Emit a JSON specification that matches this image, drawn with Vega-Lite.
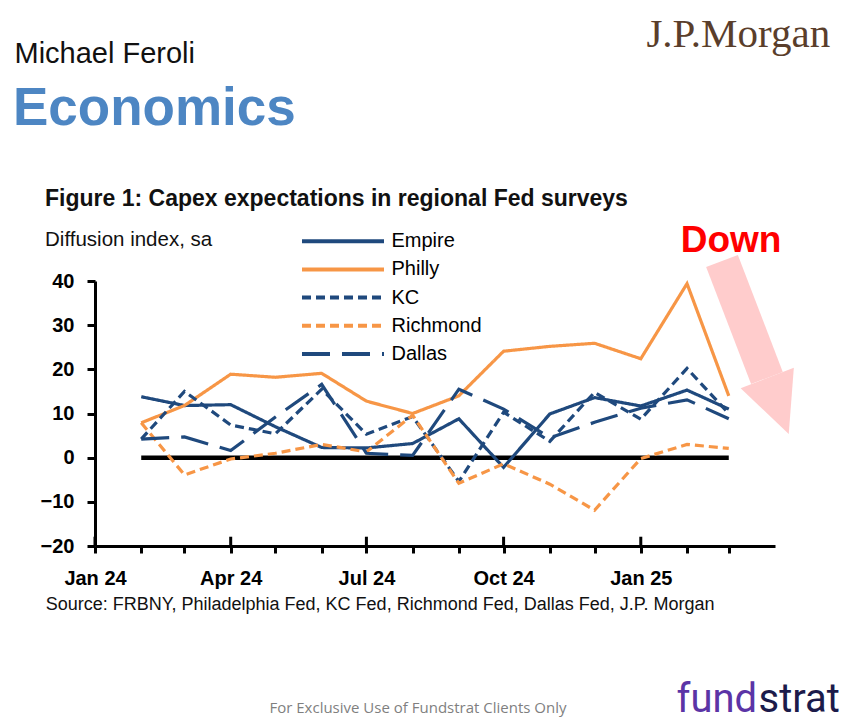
{
  "$schema": "https://vega.github.io/schema/vega-lite/v6.json",
  "autosize": "none",
  "width": 680,
  "height": 265,
  "padding": {"left": 95, "top": 281, "right": 86, "bottom": 179},
  "background": "white",
  "config": {
    "view": {"stroke": null},
    "font": "Liberation Sans",
    "axis": {
      "grid": false,
      "title": null,
      "domainColor": "black",
      "domainWidth": 3,
      "tickColor": "black",
      "tickWidth": 3,
      "labelFont": "Liberation Sans",
      "labelFontWeight": "bold",
      "labelFontSize": 20,
      "labelColor": "black",
      "labelFlush": false,
      "labelOverlap": false
    },
    "axisX": {"tickSize": 7, "labelPadding": 15},
    "axisY": {"tickSize": 8, "labelPadding": 13}
  },
  "datasets": {
    "capex": [
      {"date": "2024-02-01", "series": "Empire", "value": 13.8},
      {"date": "2024-03-01", "series": "Empire", "value": 11.8},
      {"date": "2024-04-01", "series": "Empire", "value": 12.0},
      {"date": "2024-05-01", "series": "Empire", "value": 7.0},
      {"date": "2024-06-01", "series": "Empire", "value": 2.3},
      {"date": "2024-07-01", "series": "Empire", "value": 2.2},
      {"date": "2024-08-01", "series": "Empire", "value": 3.2},
      {"date": "2024-09-01", "series": "Empire", "value": 8.8},
      {"date": "2024-10-01", "series": "Empire", "value": -2.2},
      {"date": "2024-11-01", "series": "Empire", "value": 9.9},
      {"date": "2024-12-01", "series": "Empire", "value": 13.6},
      {"date": "2025-01-01", "series": "Empire", "value": 11.7},
      {"date": "2025-02-01", "series": "Empire", "value": 15.3},
      {"date": "2025-03-01", "series": "Empire", "value": 11.0},
      {"date": "2024-02-01", "series": "Philly", "value": 7.9},
      {"date": "2024-03-01", "series": "Philly", "value": 11.8},
      {"date": "2024-04-01", "series": "Philly", "value": 18.9},
      {"date": "2024-05-01", "series": "Philly", "value": 18.2},
      {"date": "2024-06-01", "series": "Philly", "value": 19.1},
      {"date": "2024-07-01", "series": "Philly", "value": 12.8},
      {"date": "2024-08-01", "series": "Philly", "value": 10.0},
      {"date": "2024-09-01", "series": "Philly", "value": 14.0},
      {"date": "2024-10-01", "series": "Philly", "value": 24.1},
      {"date": "2024-11-01", "series": "Philly", "value": 25.2},
      {"date": "2024-12-01", "series": "Philly", "value": 25.9},
      {"date": "2025-01-01", "series": "Philly", "value": 22.4},
      {"date": "2025-02-01", "series": "Philly", "value": 39.4},
      {"date": "2025-03-01", "series": "Philly", "value": 14.0},
      {"date": "2024-02-01", "series": "KC", "value": 4.2},
      {"date": "2024-03-01", "series": "KC", "value": 15.0},
      {"date": "2024-04-01", "series": "KC", "value": 7.4},
      {"date": "2024-05-01", "series": "KC", "value": 5.4},
      {"date": "2024-06-01", "series": "KC", "value": 15.5},
      {"date": "2024-07-01", "series": "KC", "value": 5.3},
      {"date": "2024-08-01", "series": "KC", "value": 9.3},
      {"date": "2024-09-01", "series": "KC", "value": -5.4},
      {"date": "2024-10-01", "series": "KC", "value": 10.3},
      {"date": "2024-11-01", "series": "KC", "value": 3.7},
      {"date": "2024-12-01", "series": "KC", "value": 14.8},
      {"date": "2025-01-01", "series": "KC", "value": 8.7},
      {"date": "2025-02-01", "series": "KC", "value": 20.2},
      {"date": "2025-03-01", "series": "KC", "value": 10.0},
      {"date": "2024-02-01", "series": "Richmond", "value": 7.9},
      {"date": "2024-03-01", "series": "Richmond", "value": -3.9},
      {"date": "2024-04-01", "series": "Richmond", "value": -0.3},
      {"date": "2024-05-01", "series": "Richmond", "value": 1.0},
      {"date": "2024-06-01", "series": "Richmond", "value": 3.0},
      {"date": "2024-07-01", "series": "Richmond", "value": 1.3},
      {"date": "2024-08-01", "series": "Richmond", "value": 9.6},
      {"date": "2024-09-01", "series": "Richmond", "value": -5.8},
      {"date": "2024-10-01", "series": "Richmond", "value": -1.4},
      {"date": "2024-11-01", "series": "Richmond", "value": -6.0},
      {"date": "2024-12-01", "series": "Richmond", "value": -11.9},
      {"date": "2025-01-01", "series": "Richmond", "value": -0.2},
      {"date": "2025-02-01", "series": "Richmond", "value": 3.0},
      {"date": "2025-03-01", "series": "Richmond", "value": 2.1},
      {"date": "2024-02-01", "series": "Dallas", "value": 4.2},
      {"date": "2024-03-01", "series": "Dallas", "value": 4.7},
      {"date": "2024-04-01", "series": "Dallas", "value": 1.6},
      {"date": "2024-05-01", "series": "Dallas", "value": 9.2},
      {"date": "2024-06-01", "series": "Dallas", "value": 16.6},
      {"date": "2024-07-01", "series": "Dallas", "value": 1.0},
      {"date": "2024-08-01", "series": "Dallas", "value": 0.5},
      {"date": "2024-09-01", "series": "Dallas", "value": 15.5},
      {"date": "2024-10-01", "series": "Dallas", "value": 11.0},
      {"date": "2024-11-01", "series": "Dallas", "value": 4.5},
      {"date": "2024-12-01", "series": "Dallas", "value": 8.0},
      {"date": "2025-01-01", "series": "Dallas", "value": 11.2},
      {"date": "2025-02-01", "series": "Dallas", "value": 13.1},
      {"date": "2025-03-01", "series": "Dallas", "value": 8.8}
    ],
    "quarters": [
      {"date": "2024-01-01"},
      {"date": "2024-04-01"},
      {"date": "2024-07-01"},
      {"date": "2024-10-01"},
      {"date": "2025-01-01"}
    ]
  },
  "layer": [
    {
      "data": {"values": [{}]},
      "mark": {"type": "rule", "color": "#ffcccc", "strokeWidth": 34, "strokeCap": "butt"},
      "encoding": {
        "x": {"datum": {"year": 2025, "month": 2, "date": 24, "hours": 11, "utc": true}, "type": "temporal", "scale": {"type": "utc", "domain": [{"year": 2024, "month": 1, "date": 1, "utc": true}, {"year": 2025, "month": 4, "date": 1, "utc": true}]}},
        "x2": {"datum": {"year": 2025, "month": 3, "date": 26, "hours": 14, "utc": true}},
        "y": {"datum": 44.53, "type": "quantitative", "scale": {"domain": [-20, 40]}},
        "y2": {"datum": 18.04}
      }
    },
    {
      "data": {"values": [{}]},
      "mark": {"type": "point", "shape": "M-0.95,-1L0.95,-1L0,1Z", "size": 3600, "angle": 339, "filled": true, "color": "#ffcccc", "opacity": 1, "strokeWidth": 0},
      "encoding": {
        "x": {"datum": {"year": 2025, "month": 4, "date": 3, "utc": true}, "type": "temporal"},
        "y": {"datum": 11.7, "type": "quantitative"}
      }
    },
    {
      "data": {"values": [{}]},
      "mark": {"type": "rule", "color": "black", "strokeWidth": 4.5, "strokeCap": "butt"},
      "encoding": {
        "x": {"datum": {"year": 2024, "month": 2, "date": 1, "utc": true}, "type": "temporal"},
        "x2": {"datum": {"year": 2025, "month": 3, "date": 1, "utc": true}},
        "y": {"datum": 0, "type": "quantitative"}
      }
    },
    {
      "data": {"name": "quarters"},
      "mark": {"type": "rule", "color": "black", "strokeWidth": 3},
      "encoding": {
        "x": {"field": "date", "type": "temporal"},
        "y": {"datum": -20, "type": "quantitative"},
        "y2": {"datum": -17.9}
      }
    },
    {
      "data": {"name": "capex"},
      "mark": {"type": "line", "strokeWidth": 3.2, "strokeCap": "butt"},
      "encoding": {
        "x": {
          "field": "date",
          "type": "temporal",
          "axis": {
            "values": [
              {"year": 2024, "month": 1, "date": 1, "utc": true},
              {"year": 2024, "month": 2, "date": 1, "utc": true},
              {"year": 2024, "month": 3, "date": 1, "utc": true},
              {"year": 2024, "month": 4, "date": 1, "utc": true},
              {"year": 2024, "month": 5, "date": 1, "utc": true},
              {"year": 2024, "month": 6, "date": 1, "utc": true},
              {"year": 2024, "month": 7, "date": 1, "utc": true},
              {"year": 2024, "month": 8, "date": 1, "utc": true},
              {"year": 2024, "month": 9, "date": 1, "utc": true},
              {"year": 2024, "month": 10, "date": 1, "utc": true},
              {"year": 2024, "month": 11, "date": 1, "utc": true},
              {"year": 2024, "month": 12, "date": 1, "utc": true},
              {"year": 2025, "month": 1, "date": 1, "utc": true},
              {"year": 2025, "month": 2, "date": 1, "utc": true},
              {"year": 2025, "month": 3, "date": 1, "utc": true}
            ],
            "labelExpr": "utcmonth(datum.value) % 3 == 0 ? utcFormat(datum.value, '%b %y') : ''"
          }
        },
        "y": {
          "field": "value",
          "type": "quantitative",
          "axis": {"values": [-20, -10, 0, 10, 20, 30, 40]}
        },
        "color": {
          "field": "series",
          "type": "nominal",
          "scale": {
            "domain": ["Empire", "Philly", "KC", "Richmond", "Dallas"],
            "range": ["#1f497d", "#f79646", "#1f497d", "#f79646", "#1f497d"]
          },
          "legend": {
            "title": null, "orient": "none", "legendX": 237.5, "legendY": -50.3,
            "symbolType": "M-5,0L5,0", "symbolSize": 269, "symbolStrokeWidth": 4,
            "labelFont": "Liberation Sans", "labelFontSize": 20, "labelColor": "black",
            "labelOffset": 38, "rowPadding": 7.2, "padding": 0
          }
        },
        "strokeDash": {
          "field": "series",
          "type": "nominal",
          "scale": {
            "domain": ["Empire", "Philly", "KC", "Richmond", "Dallas"],
            "range": [[1, 0], [1, 0], [9, 5], [9, 5], [28, 12]]
          },
          "legend": {
            "title": null, "orient": "none", "legendX": 237.5, "legendY": -50.3,
            "symbolType": "M-5,0L5,0", "symbolSize": 269, "symbolStrokeWidth": 4,
            "labelFont": "Liberation Sans", "labelFontSize": 20, "labelColor": "black",
            "labelOffset": 38, "rowPadding": 7.2, "padding": 0
          }
        }
      }
    },
    {
      "data": {"values": [{}]},
      "mark": {"type": "text", "text": "Michael Feroli", "align": "left", "baseline": "alphabetic", "font": "Liberation Sans", "fontSize": 29, "color": "#111111"},
      "encoding": {
        "x": {"datum": {"year": 2023, "month": 11, "date": 8, "utc": true}, "type": "temporal"},
        "y": {"datum": 89.42, "type": "quantitative"}
      }
    },
    {
      "data": {"values": [{}]},
      "mark": {"type": "text", "text": "Economics", "align": "left", "baseline": "alphabetic", "font": "Liberation Sans", "fontWeight": "bold", "fontSize": 53, "color": "#4d86c3"},
      "encoding": {
        "x": {"datum": {"year": 2023, "month": 11, "date": 7, "utc": true}, "type": "temporal"},
        "y": {"datum": 75.32, "type": "quantitative"}
      }
    },
    {
      "data": {"values": [{}]},
      "mark": {"type": "text", "text": "J.P.Morgan", "align": "right", "baseline": "alphabetic", "font": "Liberation Serif", "fontSize": 41, "color": "#5a3e2b"},
      "encoding": {
        "x": {"datum": {"year": 2025, "month": 5, "date": 8, "utc": true}, "type": "temporal"},
        "y": {"datum": 92.98, "type": "quantitative"}
      }
    },
    {
      "data": {"values": [{}]},
      "mark": {"type": "text", "text": "Figure 1: Capex expectations in regional Fed surveys", "align": "left", "baseline": "alphabetic", "font": "Liberation Sans", "fontWeight": "bold", "fontSize": 23, "color": "#111111"},
      "encoding": {
        "x": {"datum": {"year": 2023, "month": 11, "date": 28, "hours": 12, "utc": true}, "type": "temporal"},
        "y": {"datum": 56.98, "type": "quantitative"}
      }
    },
    {
      "data": {"values": [{}]},
      "mark": {"type": "text", "text": "Diffusion index, sa", "align": "left", "baseline": "alphabetic", "font": "Liberation Sans", "fontSize": 20.5, "color": "#111111"},
      "encoding": {
        "x": {"datum": {"year": 2023, "month": 11, "date": 28, "hours": 12, "utc": true}, "type": "temporal"},
        "y": {"datum": 47.92, "type": "quantitative"}
      }
    },
    {
      "data": {"values": [{}]},
      "mark": {"type": "text", "text": "Down", "align": "center", "baseline": "alphabetic", "font": "Liberation Sans", "fontWeight": "bold", "fontSize": 37, "color": "#ff0000"},
      "encoding": {
        "x": {"datum": {"year": 2025, "month": 3, "date": 2, "hours": 12, "utc": true}, "type": "temporal"},
        "y": {"datum": 46.57, "type": "quantitative"}
      }
    },
    {
      "data": {"values": [{}]},
      "mark": {"type": "text", "text": "Source: FRBNY, Philadelphia Fed, KC Fed, Richmond Fed, Dallas Fed, J.P. Morgan", "align": "left", "baseline": "alphabetic", "font": "Liberation Sans", "fontSize": 18, "color": "#111111"},
      "encoding": {
        "x": {"datum": {"year": 2023, "month": 11, "date": 29, "utc": true}, "type": "temporal"},
        "y": {"datum": -34.49, "type": "quantitative"}
      }
    },
    {
      "data": {"values": [{}]},
      "mark": {"type": "text", "text": "For Exclusive Use of Fundstrat Clients Only", "align": "center", "baseline": "alphabetic", "font": "Open Sans", "fontSize": 15, "color": "#7f7f7f"},
      "encoding": {
        "x": {"datum": {"year": 2024, "month": 8, "date": 4, "hours": 14, "utc": true}, "type": "temporal"},
        "y": {"datum": -57.81, "type": "quantitative"}
      }
    },
    {
      "data": {"values": [{}]},
      "mark": {"type": "text", "text": "fund", "align": "right", "baseline": "alphabetic", "font": "Roboto", "fontSize": 40, "color": "#5b34a6"},
      "encoding": {
        "x": {"datum": {"year": 2025, "month": 3, "date": 20, "utc": true}, "type": "temporal"},
        "y": {"datum": -57.6, "type": "quantitative"}
      }
    },
    {
      "data": {"values": [{}]},
      "mark": {"type": "text", "text": "strat", "align": "left", "baseline": "alphabetic", "font": "Roboto", "fontSize": 40, "color": "#1c1b4a"},
      "encoding": {
        "x": {"datum": {"year": 2025, "month": 3, "date": 21, "utc": true}, "type": "temporal"},
        "y": {"datum": -57.6, "type": "quantitative"}
      }
    }
  ]
}
